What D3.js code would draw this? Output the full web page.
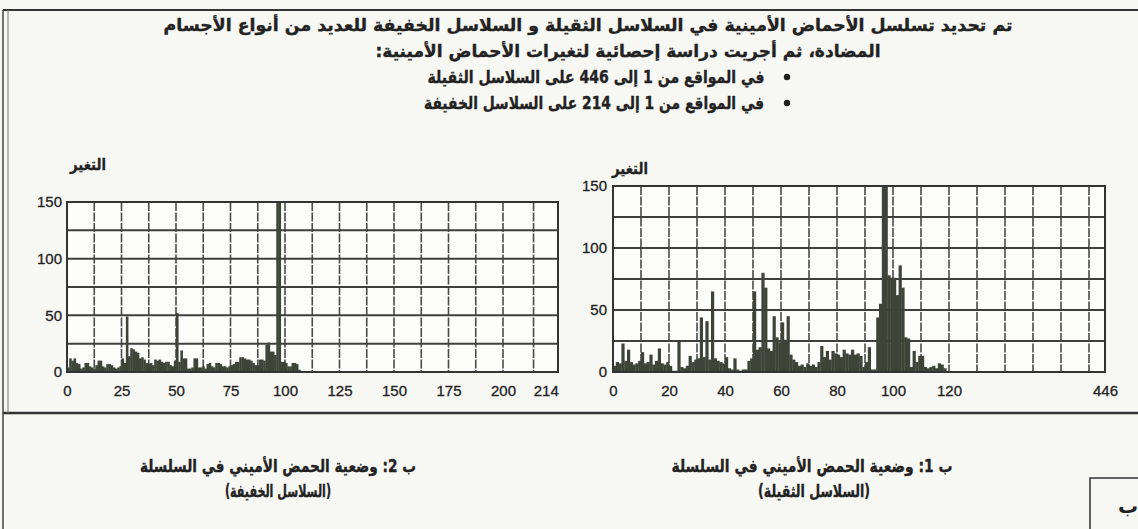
<!DOCTYPE html>
<html><head><meta charset="utf-8">
<script src="https://cdn.jsdelivr.net/npm/d3@7"></script>
<style>body{margin:0;background:#f7f7f4;overflow:hidden} svg{display:block}</style>
</head><body><svg id="c" width="1138" height="529"></svg>
<script>
// ---- DATA ----
// heavy chain variability, positions 0..118 (axis break after 170, end = 446)
const heavyValues = [5,8,7,23,9,18,8,6,7,9,16,7,8,14,6,9,19,7,6,8,5,1,1,25,4,3,5,13,8,10,11,44,12,41,10,65,11,9,8,7,12,3,2,11,2,1,2,2,9,11,65,18,20,80,68,19,17,45,28,24,40,26,45,14,10,8,5,6,4,7,5,6,4,8,21,12,17,10,17,15,14,12,18,15,14,18,14,15,13,4,8,20,2,2,44,55,150,150,78,76,76,62,86,68,28,27,4,17,8,13,13,4,3,4,5,3,7,6,3];
// light chain variability, positions 0..107 (axis end = 214)
const lightValues = [4,12,10,12,8,7,3,4,8,8,5,4,3,6,10,10,5,4,7,7,6,4,3,4,5,12,8,49,14,21,20,18,17,12,13,11,8,7,8,6,11,10,11,9,8,9,9,6,5,10,52,9,19,12,12,3,3,4,12,12,4,4,5,3,7,8,5,4,8,8,7,5,5,4,5,6,7,9,9,13,13,12,11,11,10,8,6,6,11,11,10,24,26,18,18,15,150,150,9,9,8,5,5,8,8,7,2,1];
const yTicks = [0,50,100,150];
const yGrid = [25,50,75,100,125];
const lightTickValues = [0,25,50,75,100,125,150,175,200,214];
const lightTickLabels = ["0","25","50","75","100","125","150","175","200","214"];
const lightGrid = [12.5,25,37.5,50,62.5,75,87.5,100,112.5,125,137.5,150,162.5,175,187.5,200,210];
const heavyTickValues = [0,20,40,60,80,100,120,446];
const heavyTickLabels = ["0","20","40","60","80","100","120","446"];
const heavyGrid = [10,20,30,40,50,60,70,80,90,100,110,120,130,140,150,160,170];

const titleLines = [
 "تم تحديد تسلسل الأحماض الأمينية في السلاسل الثقيلة و السلاسل الخفيفة للعديد من أنواع الأجسام",
 "المضادة، ثم أجريت دراسة إحصائية لتغيرات الأحماض الأمينية:",
 "في المواقع من 1 إلى 446 على السلاسل الثقيلة",
 "في المواقع من 1 إلى 214 على السلاسل الخفيفة"
];
const yAxisTitle = "التغير";
const captionHeavy = ["ب 1: وضعية الحمض الأميني في السلسلة","(السلاسل الثقيلة)"];
const captionLight = ["ب 2: وضعية الحمض الأميني في السلسلة","(السلاسل الخفيفة)"];
const boxLetter = "ب";

// ---- LAYOUT ----
const svg = d3.select("#c");
const AR = "'DejaVu Sans', sans-serif";
const NUM = "'Liberation Sans', Arial, sans-serif";
const INK = "#222";
const BAR = "#3e4538";

// outer frame
svg.append("line").attr("x1",3).attr("x2",1138).attr("y1",10).attr("y2",10).attr("stroke","#333").attr("stroke-width",2);
svg.append("line").attr("x1",3).attr("x2",1138).attr("y1",413).attr("y2",413).attr("stroke","#333").attr("stroke-width",2.5);
svg.append("line").attr("x1",3).attr("x2",3).attr("y1",10).attr("y2",529).attr("stroke","#444").attr("stroke-width",1.5);
svg.append("line").attr("x1",8).attr("x2",8).attr("y1",10).attr("y2",413).attr("stroke","#777").attr("stroke-width",1);
// small box bottom right
svg.append("path").attr("d","M1138,478 H1090 V529").attr("fill","none").attr("stroke","#333").attr("stroke-width",1.5);

function arText(str, cx, cy, fs, width){
  const t = svg.append("text").attr("x",cx).attr("y",cy).attr("dy","0.35em")
    .attr("text-anchor","middle").attr("direction","rtl")
    .attr("font-family",AR).attr("font-weight","bold").attr("font-size",fs)
    .attr("fill",INK).attr("stroke",INK).attr("stroke-width",0.35).text(str);
  if (width) t.attr("textLength",width).attr("lengthAdjust","spacingAndGlyphs");
  return t;
}
arText(titleLines[0], 588, 25, 17, 849);
arText(titleLines[1], 628, 51, 17, 505);
arText(titleLines[2], 596, 77, 17, 337);
arText(titleLines[3], 594, 103, 17, 340);
[77,103].forEach(y=>svg.append("circle").attr("cx",787).attr("cy",y).attr("r",3.2).attr("fill",INK));

arText(captionHeavy[0], 812, 466, 17, 281);
arText(captionHeavy[1], 814, 491, 17, 112);
arText(captionLight[0], 278, 466, 17, 276);
arText(captionLight[1], 278, 491, 17, 106);
svg.append("text").attr("x",1128).attr("y",506).attr("dy","0.35em").attr("text-anchor","middle")
  .attr("font-family",AR).attr("font-weight","bold").attr("font-size",20).attr("fill",INK).text(boxLetter);

function drawChart(o){
  const g = svg.append("g");
  const x = d3.scaleLinear().domain(o.xDomain).range(o.xRange);
  const y = d3.scaleLinear().domain([0,150]).range([o.yBot,o.yTop]);
  const x0 = o.xRange[0], x1 = o.xRange[o.xRange.length-1];
  g.append("rect").attr("x",x0).attr("y",o.yTop).attr("width",x1-x0).attr("height",o.yBot-o.yTop).attr("fill","#fdfdfb");
  // grid
  g.selectAll(".vg").data(o.grid).join("line")
    .attr("x1",d=>x(d)).attr("x2",d=>x(d)).attr("y1",o.yTop).attr("y2",o.yBot)
    .attr("stroke","#4a4a4a").attr("stroke-width",1.6).attr("stroke-dasharray","9,1.5");
  g.selectAll(".hg").data(yGrid).join("line")
    .attr("x1",x0).attr("x2",x1).attr("y1",d=>y(d)).attr("y2",d=>y(d))
    .attr("stroke","#3f3f3f").attr("stroke-width",2);
  // bars
  g.selectAll(".bar").data(o.values).join("rect")
    .attr("x",(d,i)=>x(i)).attr("width",(d,i)=>x(i+1)-x(i)+0.4)
    .attr("y",d=>y(d)).attr("height",d=>o.yBot-y(d)).attr("fill",BAR);
  // frame
  g.append("rect").attr("x",x0).attr("y",o.yTop).attr("width",x1-x0).attr("height",o.yBot-o.yTop)
    .attr("fill","none").attr("stroke","#333").attr("stroke-width",2);
  // axes
  const ya = g.append("g").attr("transform",`translate(${x0},0)`)
    .call(d3.axisLeft(y).tickValues(yTicks).tickSize(0).tickPadding(o.yPad));
  const xa = g.append("g").attr("transform",`translate(0,${o.yBot})`)
    .call(d3.axisBottom(x).tickValues(o.tickValues).tickFormat((d,i)=>o.tickLabels[i]).tickSize(0).tickPadding(13));
  [ya,xa].forEach(a=>{a.select(".domain").remove();
    a.selectAll("text").attr("font-family",NUM).attr("font-size",15).attr("fill",INK)
      .attr("stroke",INK).attr("stroke-width",0.3);});
  svg.append("text").attr("x",o.titleX).attr("y",o.titleY).attr("dy","0.35em").attr("text-anchor","middle")
    .attr("direction","rtl").attr("font-family",AR).attr("font-weight","bold").attr("font-size",16)
    .attr("textLength",36).attr("lengthAdjust","spacingAndGlyphs")
    .attr("fill",INK).attr("stroke",INK).attr("stroke-width",0.3).text(yAxisTitle);
}
drawChart({values:lightValues, xDomain:[0,200,218], xRange:[67,503,558], yTop:202, yBot:372,
  grid:lightGrid, tickValues:lightTickValues, tickLabels:lightTickLabels, yPad:5, titleX:88, titleY:164});
drawChart({values:heavyValues, xDomain:[0,170,446], xRange:[613,1089,1105], yTop:186, yBot:372,
  grid:heavyGrid, tickValues:heavyTickValues, tickLabels:heavyTickLabels, yPad:6, titleX:630, titleY:168});
</script></body></html>
